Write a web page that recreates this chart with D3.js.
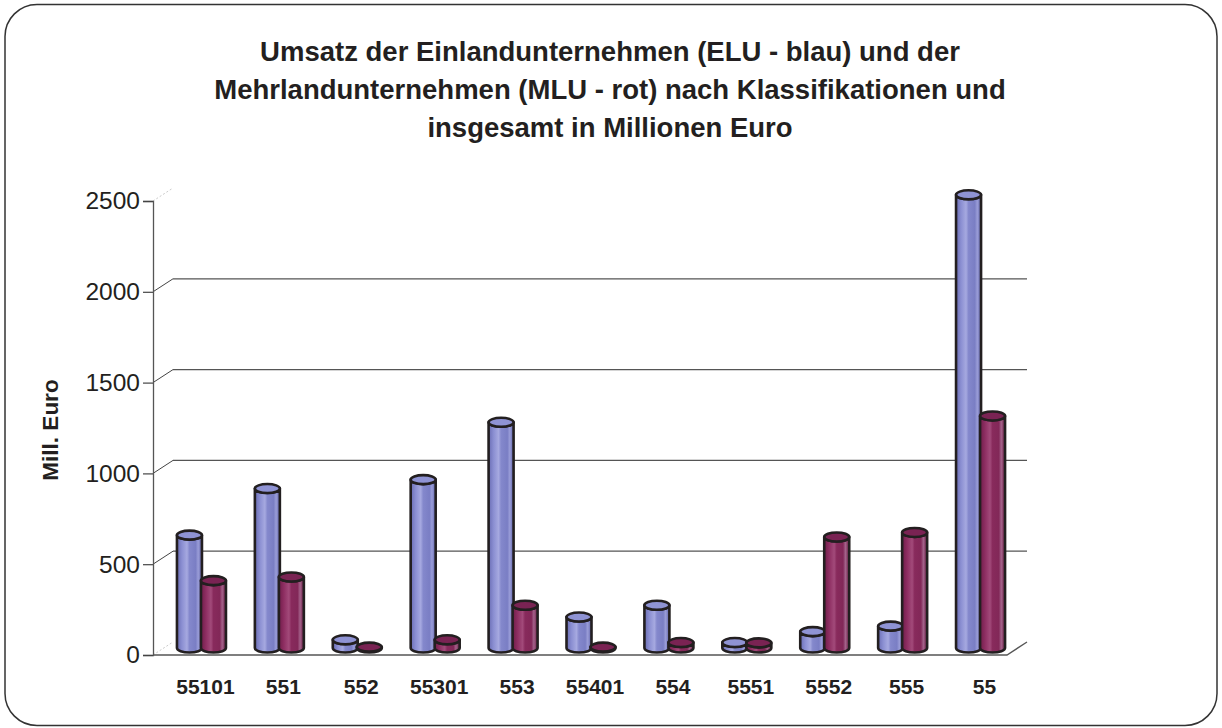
<!DOCTYPE html>
<html>
<head>
<meta charset="utf-8">
<script src="https://cdn.jsdelivr.net/npm/d3@7"></script>
<style>
  html, body { margin: 0; padding: 0; background: #fff; }
  svg { display: block; font-family: "Liberation Sans", Arial, sans-serif; }
</style>
</head>
<body>
<div id="chart"></div>
<script>
const categories = ['55101', '551', '552', '55301', '553', '55401', '554', '5551', '5552', '555', '55'];
const eluValues = [620, 876, 45, 925, 1240, 170, 235, 30, 90, 120, 2490];
const mluValues = [370, 390, 5, 45, 235, 5, 30, 28, 610, 635, 1275];
const yTicks = [0, 500, 1000, 1500, 2000, 2500];
const titleLines = [
  'Umsatz der Einlandunternehmen (ELU - blau) und der',
  'Mehrlandunternehmen (MLU - rot) nach Klassifikationen und',
  'insgesamt in Millionen Euro'
];

const width = 1222;
const height = 728;
const ink = '#231f20';

const svg = d3.select('#chart').append('svg')
  .attr('width', width)
  .attr('height', height);

const defs = svg.append('defs');

function cylGradient(id, stops) {
  const g = defs.append('linearGradient').attr('id', id)
    .attr('x1', 0).attr('x2', 1).attr('y1', 0).attr('y2', 0);
  stops.forEach(s => g.append('stop').attr('offset', s[0]).attr('stop-color', s[1]));
}
cylGradient('gBlue', [[0, '#6a6db4'], [0.2, '#8b8fd2'], [0.4, '#a6a9e0'], [0.5, '#8488cc'], [0.75, '#7a7ec4'], [0.85, '#9a9dd8'], [1, '#5e61a8']]);
cylGradient('gRed', [[0, '#6f1d49'], [0.2, '#8e2e62'], [0.4, '#a24a7a'], [0.5, '#882a5c'], [0.75, '#822858'], [0.85, '#a4628a'], [1, '#6a1c45']]);

// frame
svg.append('rect')
  .attr('x', 5).attr('y', 4.5)
  .attr('width', 1212).attr('height', 721)
  .attr('rx', 32).attr('ry', 32)
  .attr('fill', 'none')
  .attr('stroke', '#333')
  .attr('stroke-width', 1.5);

// title
svg.append('g').selectAll('text')
  .data(titleLines)
  .join('text')
  .attr('x', 610)
  .attr('y', (d, i) => 61 + i * 38)
  .attr('text-anchor', 'middle')
  .attr('font-size', 27.5)
  .attr('font-weight', 'bold')
  .attr('fill', ink)
  .text(d => d);

// scales
const y = d3.scaleLinear().domain([0, 2500]).range([655, 201]);
const yBar = d3.scaleLinear().domain([0, 2500]).range([648, 193]);
const x = d3.scaleBand().domain(categories).range([162.5, 1019.5]).paddingInner(0);
const depthX = 20;
const depthY = -13;
const axisX = 153;
const backRight = 1027;

// back grid lines
const grid = svg.append('g').attr('stroke', '#555').attr('stroke-width', 1.3).attr('fill', 'none');
grid.selectAll('line.back')
  .data(yTicks.filter(d => d > 0 && d < 2500))
  .join('line')
  .attr('class', 'back')
  .attr('x1', axisX + depthX).attr('x2', backRight)
  .attr('y1', d => y(d) + depthY).attr('y2', d => y(d) + depthY);
grid.selectAll('line.diag')
  .data(yTicks)
  .join('line')
  .attr('class', 'diag')
  .attr('x1', axisX).attr('x2', axisX + depthX)
  .attr('y1', d => y(d)).attr('y2', d => y(d) + depthY)
  .attr('stroke', d => (d === 0 || d === 2500) ? '#ccc' : '#444')
  .attr('stroke-dasharray', d => (d === 0 || d === 2500) ? '2,2' : null)
  .attr('stroke-width', 1);

// floor
svg.append('path')
  .attr('d', `M${axisX},${y(0)}H${backRight - depthX}L${backRight},${y(0) + depthY}`)
  .attr('fill', 'none')
  .attr('stroke', '#555')
  .attr('stroke-width', 1.3);

// y axis
const axis = svg.append('g').attr('transform', `translate(${axisX},0)`)
  .call(d3.axisLeft(y).tickValues(yTicks).tickSize(10).tickPadding(3).tickFormat(d3.format('d')));
axis.select('.domain').attr('stroke', '#555').attr('stroke-width', 1.3);
axis.selectAll('.tick line').attr('stroke', '#444').attr('stroke-width', 1.2);
axis.selectAll('.tick text')
  .attr('font-size', 24.5)
  .attr('font-family', '"Liberation Sans", Arial, sans-serif')
  .attr('fill', ink);

svg.append('text')
  .attr('transform', 'translate(58,430) rotate(-90)')
  .attr('text-anchor', 'middle')
  .attr('font-size', 22.5)
  .attr('font-weight', 'bold')
  .attr('fill', ink)
  .text('Mill. Euro');

// cylinders
const barW = 25;
const ry = 4.5;
function cylinder(g, cx, v, grad, topFill) {
  const left = cx - barW / 2;
  const right = cx + barW / 2;
  const rx = barW / 2;
  const yb = yBar(0);
  const yt = yBar(v);
  g.append('path')
    .attr('d', `M${left},${yt}V${yb}A${rx},${ry} 0 0 0 ${right},${yb}V${yt}A${rx},${ry} 0 0 1 ${left},${yt}Z`)
    .attr('fill', `url(#${grad})`)
    .attr('stroke', ink)
    .attr('stroke-width', 2.6)
    .attr('stroke-linejoin', 'round');
  g.append('ellipse')
    .attr('cx', cx).attr('cy', yt)
    .attr('rx', rx).attr('ry', ry)
    .attr('fill', topFill)
    .attr('stroke', ink)
    .attr('stroke-width', 2.6);
}

const bars = svg.append('g');
categories.forEach((c, i) => {
  const cx = x(c) + x.bandwidth() / 2;
  const g = bars.append('g');
  cylinder(g, cx - 12, eluValues[i], 'gBlue', '#8f93d4');
  cylinder(g, cx + 12, mluValues[i], 'gRed', '#7a2353');
});

// category labels
svg.append('g').selectAll('text')
  .data(categories)
  .join('text')
  .attr('x', d => x(d) + x.bandwidth() / 2 + 4)
  .attr('y', 694)
  .attr('text-anchor', 'middle')
  .attr('font-size', 21)
  .attr('font-weight', 'bold')
  .attr('fill', ink)
  .text(d => d);
</script>
</body>
</html>
